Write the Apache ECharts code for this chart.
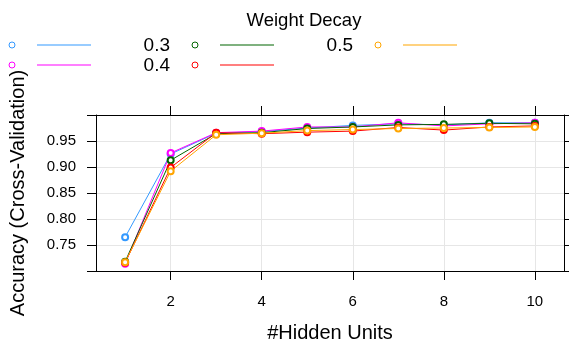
<!DOCTYPE html>
<html>
<head>
<meta charset="utf-8">
<script src="https://cdn.jsdelivr.net/npm/echarts@6/dist/echarts.min.js"></script>
<style>
  html, body { margin: 0; padding: 0; background: #fff; }
  #container { width: 569px; height: 347px; }
</style>
</head>
<body>
<div id="container"></div>
<script>
// hidden units on x, one list of accuracies per weight decay value
const hiddenUnits = [1, 2, 3, 4, 5, 6, 7, 8, 9, 10];
const decayNames = ['0.1', '0.2', '0.3', '0.4', '0.5'];
const decayColors = ['#3399ff', '#ff00ff', '#006400', '#ff0000', '#ffa500'];
const acc01 = [0.765, 0.925, 0.965, 0.968, 0.975, 0.980, 0.983, 0.981, 0.985, 0.985];
const acc02 = [0.714, 0.927, 0.966, 0.969, 0.977, 0.977, 0.985, 0.979, 0.983, 0.985];
const acc03 = [0.718, 0.913, 0.964, 0.966, 0.974, 0.977, 0.981, 0.982, 0.984, 0.983];
const acc04 = [0.716, 0.899, 0.966, 0.964, 0.967, 0.969, 0.976, 0.971, 0.977, 0.979];
const acc05 = [0.717, 0.892, 0.962, 0.965, 0.970, 0.972, 0.974, 0.975, 0.976, 0.977];
const xTicks = [2, 4, 6, 8, 10];
const yTicks = [0.75, 0.80, 0.85, 0.90, 0.95];

const accAll = [acc01, acc02, acc03, acc04, acc05];
const font = 'Liberation Sans, Arial, sans-serif';

var graph = echarts.init(document.getElementById('container'));

// legend is drawn by hand: label, open point, short line (lattice key style)
let keyItems = [
  { type: 'text', x: 304, y: 21, style: { text: 'Weight Decay', font: '18.5px ' + font, fill: '#000', align: 'center', verticalAlign: 'middle' } }
];
decayNames.forEach((name, i) => {
  const col = Math.floor(i / 2);
  const row = i % 2;
  const x0 = 12 + col * 183;
  const y0 = 45 + row * 20;
  keyItems.push({
    type: 'text', x: x0 - 25, y: y0 + 1,
    style: { text: name, font: '19px ' + font, fill: '#000', align: 'right', verticalAlign: 'middle' }
  });
  keyItems.push({
    type: 'circle', shape: { cx: x0, cy: y0, r: 3 },
    style: { fill: '#fff', stroke: decayColors[i], lineWidth: 1 }
  });
  keyItems.push({
    type: 'polyline', shape: { points: [[x0 + 25, y0], [x0 + 79, y0]] },
    style: { stroke: decayColors[i], fill: null, lineWidth: 1.2 }
  });
});

const axisLine = { show: true, lineStyle: { color: '#000', width: 1 } };
const tick = { show: true, length: 9, lineStyle: { color: '#000' } };
const grid = { show: true, lineStyle: { color: '#e6e6e6', width: 1 } };

option = {
  animation: false,
  textStyle: { fontFamily: font },
  grid: { left: 96, right: 5, top: 115, bottom: 76 },
  graphic: keyItems,
  xAxis: [
    {
      type: 'value', min: 0.36, max: 10.64,
      name: '#Hidden Units', nameLocation: 'middle', nameGap: 52,
      nameTextStyle: { fontSize: 20, color: '#000' },
      axisLine: axisLine,
      axisTick: Object.assign({ customValues: xTicks }, tick),
      axisLabel: { customValues: xTicks, fontSize: 15, color: '#000', margin: 23 },
      splitLine: { show: false }
    },
    {
      type: 'value', min: 0.36, max: 10.64, position: 'top',
      axisLine: axisLine,
      axisTick: Object.assign({ customValues: xTicks }, tick),
      axisLabel: { show: false },
      splitLine: { show: false }
    }
  ],
  yAxis: [
    {
      type: 'value', min: 0.70, max: 1.0, interval: 0.05,
      name: 'Accuracy (Cross-Validation)', nameLocation: 'middle', nameGap: 68,
      nameTextStyle: { fontSize: 20, color: '#000' },
      axisLine: axisLine, axisTick: tick,
      axisLabel: {
        fontSize: 15, color: '#000', margin: 20,
        formatter: (v) => (yTicks.some((t) => Math.abs(t - v) < 1e-6) ? v.toFixed(2) : '')
      },
      splitLine: grid
    },
    {
      type: 'value', min: 0.70, max: 1.0, interval: 0.05, position: 'right',
      axisLine: axisLine, axisTick: tick,
      axisLabel: { show: false },
      splitLine: { show: false }
    }
  ],
  series: decayNames.map((name, i) => ({
    name: name,
    type: 'line',
    data: hiddenUnits.map((u, k) => [u, accAll[i][k]]),
    symbol: 'emptyCircle',
    symbolSize: 6,
    lineStyle: { color: decayColors[i], width: 1 },
    itemStyle: { color: decayColors[i], borderWidth: 1 }
  }))
};

// vertical grid lines at the x ticks, drawn as a markLine on the first series
option.series[0].markLine = {
  silent: true, symbol: 'none', label: { show: false }, z: 0,
  lineStyle: { color: '#e6e6e6', type: 'solid', width: 1 },
  data: xTicks.map((t) => ({ xAxis: t }))
};

graph.setOption(option);
</script>
</body>
</html>
